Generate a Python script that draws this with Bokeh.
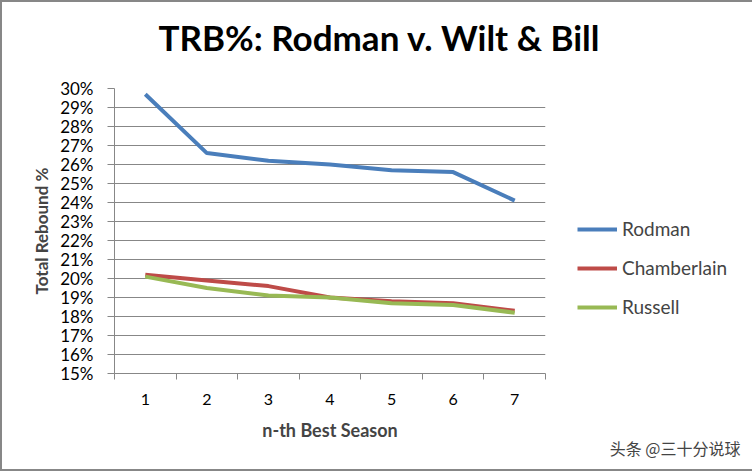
from bokeh.plotting import figure
from bokeh.models import (Range1d, FixedTicker, PrintfTickFormatter, Legend, LegendItem, Title)
from bokeh.embed import file_html
from bokeh.resources import INLINE

seasons = [1, 2, 3, 4, 5, 6, 7]
rodman = [29.7, 26.6, 26.2, 26.0, 25.7, 25.6, 24.1]
chamberlain = [20.2, 19.9, 19.6, 19.0, 18.8, 18.7, 18.3]
russell = [20.1, 19.5, 19.1, 19.0, 18.7, 18.6, 18.2]
y_ticks = list(range(15, 31))
series_names = ["Rodman", "Chamberlain", "Russell"]
colors = ["#4A7EBB", "#BE4B48", "#98B954"]

FONT = "Lato"
GRID = "#878787"

p = figure(title=None, frame_width=431, frame_height=285, output_backend="svg", toolbar_location=None,
           x_range=Range1d(0.5, 7.5), y_range=Range1d(15, 30),
           min_border_left=112, min_border_right=205, min_border_top=86, min_border_bottom=96)
p.styles = {"border": "2px solid #878787"}
p.outline_line_color = None
p.background_fill_color = "white"
p.border_fill_color = "white"

# spacer between the frame and the title (nearest the frame)
p.add_layout(Title(text=" ", text_font_size="1px", standoff=18), "above")
p.add_layout(Title(text="TRB%: Rodman v. Wilt & Bill", align="left", offset=44,
                   text_font=FONT, text_font_style="bold", text_font_size="35px",
                   standoff=20, text_color="black"), "above")

p.xaxis.ticker = FixedTicker(ticks=seasons, minor_ticks=[s - 0.5 for s in seasons] + [7.5])
p.xaxis.major_tick_out = 0
p.xaxis.major_tick_in = 0
p.xaxis.minor_tick_out = 6
p.xaxis.minor_tick_in = 0
p.xaxis.minor_tick_line_color = GRID
p.xaxis.axis_line_color = GRID
p.xaxis.major_label_standoff = 14
p.xaxis.major_label_text_font = FONT
p.xaxis.major_label_text_font_size = "16px"
p.xaxis.major_label_text_color = "black"
p.xaxis.axis_label = "n-th Best Season"
p.xaxis.axis_label_text_font = FONT
p.xaxis.axis_label_text_font_style = "bold"
p.xaxis.axis_label_text_font_size = "18px"
p.xaxis.axis_label_standoff = 11
p.xgrid.visible = False

p.yaxis.ticker = FixedTicker(ticks=y_ticks)
p.yaxis.formatter = PrintfTickFormatter(format="%d%%")
p.yaxis.major_tick_out = 7
p.yaxis.major_tick_in = 0
p.yaxis.minor_tick_out = 0
p.yaxis.minor_tick_in = 0
p.yaxis.major_tick_line_color = GRID
p.yaxis.axis_line_color = GRID
p.yaxis.major_label_standoff = 14
p.yaxis.major_label_text_font = FONT
p.yaxis.major_label_text_font_size = "17px"
p.yaxis.major_label_text_color = "black"
p.yaxis.axis_label = "Total Rebound %"
p.yaxis.axis_label_text_font = FONT
p.yaxis.axis_label_text_font_style = "bold"
p.yaxis.axis_label_text_font_size = "17px"
p.yaxis.axis_label_standoff = 5
p.ygrid.ticker = FixedTicker(ticks=y_ticks)
p.ygrid.grid_line_color = GRID
p.ygrid.grid_line_width = 1

renderers = []
for name, vals, c in zip(series_names, [rodman, chamberlain, russell], colors):
    r = p.line(seasons, vals, line_color=c, line_width=4)
    renderers.append((name, r))

legend = Legend(items=[LegendItem(label=n, renderers=[r]) for n, r in renderers],
                location="top_left", border_line_color=None, background_fill_alpha=0,
                label_text_font=FONT, label_text_font_size="19px",
                glyph_width=40, glyph_height=22, label_height=22, spacing=16,
                label_standoff=5, padding=0, margin=32,
                title=" ", title_text_font_size="10px", title_standoff=86)
p.add_layout(legend, "right")

p.add_layout(Title(text="头条 @三十分说球", align="right", text_font="Noto Sans CJK SC",
                   text_font_size="16px", text_font_style="normal", text_color="#444444",
                   standoff=-20, offset=-195), "below")

open("out.html", "w").write(file_html(p, INLINE))
